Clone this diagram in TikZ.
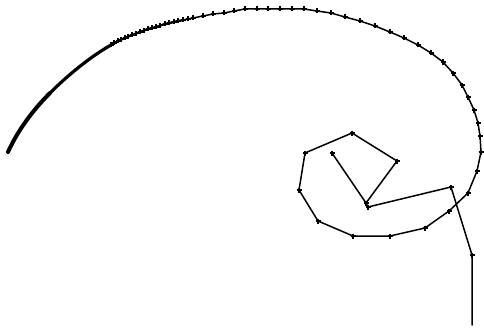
\documentclass[tikz,border=0pt]{standalone}
\begin{document}
\begin{tikzpicture}[x=1pt,y=-1pt,
  trail/.style={line width=1.5pt,line join=round,line cap=round},
  mk/.style={line width=1.1pt}]
\useasboundingbox (0,0) rectangle (484,329);
% path A: inner loop to outer arc
\draw[trail] (366,203) -- (397,161) -- (352,133) -- (305,153) -- (299,190) -- (318,221) -- (353,236) -- (390,236) -- (425,228) -- (449,211) -- (468,193) -- (477,171) -- (481,152)
  -- (480,136) -- (478,123) -- (474,110) -- (468,97) -- (462,85) -- (453,73) -- (443,62) -- (431,53) -- (418,45) -- (404,38) -- (390,32) -- (375,26) -- (360,21) -- (345,17) -- (331,13) -- (317,11) -- (304,9) -- (292,9) -- (280,9) -- (268,9) -- (257,9) -- (245,9) -- (234,11) -- (224,13) -- (213,14) -- (203,16) -- (193,18) -- (183,20) -- (174,22) -- (165,24) -- (156,27) -- (148,29) -- (140,32) -- (132,35) -- (125,38) -- (118,41) -- (111,45);
% thicker, denser part
\draw[line width=2.2pt,line join=round,line cap=round] (183,20) -- (174,22) -- (165,24) -- (156,27) -- (148,29) -- (140,32) -- (132,35) -- (125,38) -- (118,41) -- (111,45);
\draw[line width=3.2pt,line cap=round] (111,45) .. controls (90,57) and (68,75) .. (50,93);
\draw[line width=4pt,line cap=round] (50,93) .. controls (33,110) and (18,130) .. (8,152);
% path B
\draw[trail] (332,153) -- (366,203) -- (368,207) -- (451,187) -- (472,255) -- (472,325);
% markers
\foreach \p in {(481,152),(480,136),(478,123),(474,110),(468,97),(462,85),(453,73),(443,62),(431,53),(418,45),(404,38),(390,32),(375,26),(360,21),(345,17),(331,13),(317,11),(304,9),(292,9),(280,9),(268,9),(257,9),(245,9),(234,11),(224,13),(213,14),(203,16),(193,18),(188,19),(183,20),(178,21),(174,22),(169,23),(165,24),(160,25.5),(156,27),(152,28),(148,29),(144,30.5),(140,32),(136,33.5),(132,35),(128,36.5),(125,38),(121,39.5),(118,41),(114,43),(111,45),
  (366,203),(397,161),(352,133),(305,153),(299,190),(318,221),(353,236),(390,236),(425,228),(449,211),(468,193),(477,171),
  (332,153),(368,207),(451,187),(472,255)}
  \draw[mk] \p +(-2.5,0) -- +(2.5,0) \p +(0,-2.5) -- +(0,2.5);
\end{tikzpicture}
\end{document}
